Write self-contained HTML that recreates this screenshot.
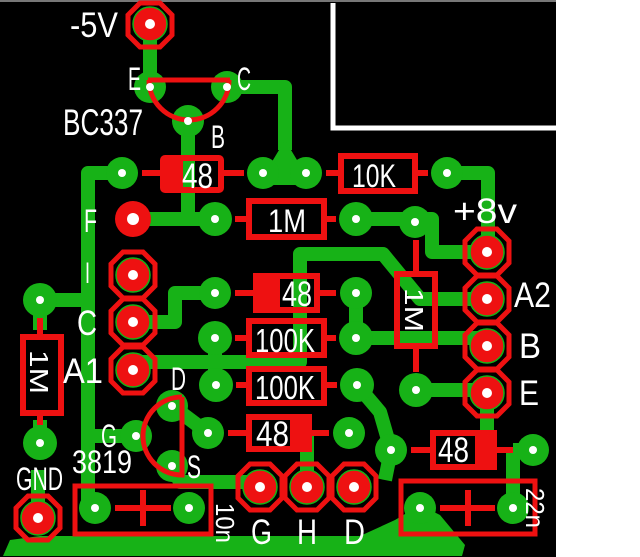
<!DOCTYPE html>
<html><head><style>
html,body{margin:0;padding:0;background:#fff;}
svg{display:block;}
text{font-family:"Liberation Sans",sans-serif;fill:#fff;}
</style></head><body>
<svg width="640" height="557" viewBox="0 0 640 557" xmlns="http://www.w3.org/2000/svg">
<rect x="0" y="0" width="556" height="557" fill="#000"/>
<rect x="0" y="0" width="556" height="2" fill="#777"/>
<path d="M333 3 V128 H556" stroke="#fff" stroke-width="5" fill="none"/>

<g stroke="#17b217" stroke-width="14" fill="none" stroke-linejoin="round">
<path d="M150 24 V87"/>
<path d="M227 87 H285 V150"/>
<path d="M188 121 V219 M133 219 H215"/>
<path d="M122 173 H88 V505 L95 508"/>
<path d="M40 300 H88"/>
<path d="M356 219 H432 V252 H487"/>
<path d="M447 173 H488 V252"/>
<path d="M133 322 H175 V293 H215"/>
<path d="M133 362 H300 V254 H383 L420 299 H487"/>
<path d="M215 338 V385"/>
<path d="M356 293 V338 H487"/>
<path d="M416 390 H487"/>
<path d="M487 393 V450"/>
<path d="M513 450 H533 M513 450 V508"/>
<path d="M357 385 L380 412 L391 450 L385 480"/>
<path d="M172 406 L208 433"/>
<path d="M172 466 L180 482 H260"/>
<path d="M307 487 V433"/>
<path d="M136 436 H88"/>
<path d="M40 300 V330 M40 420 V443 M38 518 V470"/>
</g>
<polygon points="285,140 270,165 263,185 306,185 300,165" fill="#17b217"/>
<polygon points="3,556 10,540 40,536 360,536 395,520 420,505 440,515 465,545 462,556" fill="#17b217"/>

<g fill="#17b217">
<circle cx="150" cy="87" r="16"/><circle cx="227" cy="87" r="16"/><circle cx="188" cy="121" r="16"/>
<circle cx="122" cy="173" r="16"/><circle cx="263" cy="173" r="16"/><circle cx="306" cy="173" r="16"/><circle cx="447" cy="173" r="16"/>
<circle cx="215" cy="219" r="17"/><circle cx="356" cy="219" r="17"/><circle cx="415" cy="222" r="16"/>
<circle cx="215" cy="293" r="16"/><circle cx="356" cy="293" r="16"/>
<circle cx="215" cy="338" r="17"/><circle cx="356" cy="338" r="17"/>
<circle cx="216" cy="385" r="17"/><circle cx="357" cy="385" r="17"/>
<circle cx="416" cy="390" r="17"/>
<circle cx="40" cy="300" r="17"/><circle cx="40" cy="443" r="17"/>
<circle cx="172" cy="406" r="16"/><circle cx="136" cy="436" r="16"/><circle cx="172" cy="466" r="16"/>
<circle cx="208" cy="433" r="16"/><circle cx="349" cy="433" r="16"/>
<circle cx="391" cy="450" r="16"/><circle cx="533" cy="450" r="16"/>
<circle cx="95" cy="508" r="16"/><circle cx="189" cy="508" r="16"/>
<circle cx="420" cy="508" r="16"/><circle cx="513" cy="508" r="16"/>
</g>

<g fill="none" stroke="#ee1111" stroke-width="5">
<polygon points="140,3 160,3 172,15 172,35 160,47 140,47 128,35 128,15"/>
<polygon points="123,252 143,252 155,264 155,286 143,298 123,298 111,286 111,264"/>
<polygon points="123,299 143,299 155,311 155,333 143,345 123,345 111,333 111,311"/>
<polygon points="123,347 143,347 155,359 155,381 143,393 123,393 111,381 111,359"/>
<polygon points="477,229 497,229 509,241 509,263 497,275 477,275 465,263 465,241"/>
<polygon points="477,276 497,276 509,288 509,310 497,322 477,322 465,310 465,288"/>
<polygon points="477,323 497,323 509,335 509,357 497,369 477,369 465,357 465,335"/>
<polygon points="477,370 497,370 509,382 509,404 497,416 477,416 465,404 465,382"/>
<polygon points="28,496 48,496 60,508 60,528 48,540 28,540 16,528 16,508"/>
<polygon points="250,464 270,464 282,476 282,498 270,510 250,510 238,498 238,476"/>
<polygon points="297,464 317,464 329,476 329,498 317,510 297,510 285,498 285,476"/>
<polygon points="344,464 364,464 376,476 376,498 364,510 344,510 332,498 332,476"/>
</g>
<g fill="#ee1111" stroke="#17b217" stroke-width="1.5">
<circle cx="150" cy="24" r="17"/><circle cx="133" cy="275" r="17"/><circle cx="133" cy="322" r="17"/><circle cx="133" cy="370" r="17"/>
<circle cx="487" cy="252" r="17"/><circle cx="487" cy="299" r="17"/><circle cx="487" cy="346" r="17"/><circle cx="487" cy="393" r="17"/>
<circle cx="38" cy="518" r="17"/><circle cx="260" cy="487" r="17"/><circle cx="307" cy="487" r="17"/><circle cx="354" cy="487" r="17"/>
</g>
<circle cx="133" cy="219" r="18" fill="#ee1111"/>

<g stroke="#ee1111" stroke-width="6" fill="none">
<path d="M148 80 H230 M149 80 A40 40 0 0 0 229 80" stroke-width="5"/>
<path d="M182 397 V475 A39 39 0 0 1 182 397" stroke-width="5"/>
<path d="M142 173 H163 M221 173 H244"/>
<path d="M326 173 H341 M415 173 H428"/>
<path d="M235 219 H249 M324 219 H336"/>
<path d="M235 293 H256 M317 293 H336"/>
<path d="M235 338 H249 M324 338 H336"/>
<path d="M236 385 H249 M324 385 H337"/>
<path d="M228 433 H249 M309 433 H329"/>
<path d="M411 450 H433 M494 450 H513"/>
<path d="M416 240 V274 M416 346 V372"/>
<path d="M40 318 V337 M40 413 V425"/>
<path d="M115 508 H171 M143 490 V526 M440 508 H495 M468 490 V526"/>
<rect x="163" y="158" width="58" height="32" rx="2"/>
<rect x="341" y="156" width="74" height="35"/>
<rect x="249" y="201" width="75" height="36"/>
<rect x="256" y="276" width="61" height="34"/>
<rect x="249" y="321" width="75" height="34"/>
<rect x="249" y="369" width="75" height="34"/>
<rect x="249" y="417" width="60" height="32"/>
<rect x="433" y="433" width="61" height="34"/>
<rect x="397" y="274" width="38" height="72"/>
<rect x="23" y="337" width="38" height="76"/>
<rect x="75" y="486" width="136" height="48" stroke-width="5"/>
<rect x="401" y="481" width="134" height="53" stroke-width="5"/>
</g>
<g fill="#ee1111">
<rect x="163" y="158" width="20" height="32"/>
<rect x="256" y="276" width="24" height="34"/>
<rect x="290" y="417" width="19" height="32"/>
<rect x="475" y="433" width="19" height="34"/>
</g>

<g fill="#fff">
<circle cx="150" cy="24" r="5"/><circle cx="150" cy="87" r="4"/><circle cx="227" cy="87" r="4"/><circle cx="188" cy="121" r="4"/>
<circle cx="122" cy="173" r="4"/><circle cx="263" cy="173" r="4"/><circle cx="306" cy="173" r="4"/><circle cx="447" cy="173" r="4"/>
<circle cx="133" cy="219" r="6"/><circle cx="215" cy="219" r="4"/><circle cx="356" cy="219" r="4"/><circle cx="415" cy="222" r="4"/>
<circle cx="133" cy="275" r="5"/><circle cx="133" cy="322" r="5"/><circle cx="133" cy="370" r="5"/>
<circle cx="215" cy="293" r="4"/><circle cx="356" cy="293" r="4"/><circle cx="215" cy="338" r="4"/><circle cx="356" cy="338" r="4"/>
<circle cx="216" cy="385" r="4"/><circle cx="357" cy="385" r="4"/><circle cx="416" cy="390" r="4"/>
<circle cx="487" cy="252" r="5"/><circle cx="487" cy="299" r="5"/><circle cx="487" cy="346" r="5"/><circle cx="487" cy="393" r="5"/>
<circle cx="40" cy="300" r="4"/><circle cx="40" cy="443" r="4"/><circle cx="38" cy="518" r="5"/>
<circle cx="172" cy="406" r="4"/><circle cx="136" cy="436" r="4"/><circle cx="172" cy="466" r="4"/>
<circle cx="208" cy="433" r="4"/><circle cx="349" cy="433" r="4"/><circle cx="391" cy="450" r="4"/><circle cx="533" cy="450" r="4"/>
<circle cx="260" cy="487" r="5"/><circle cx="307" cy="487" r="5"/><circle cx="354" cy="487" r="5"/>
<circle cx="95" cy="508" r="4"/><circle cx="189" cy="508" r="4"/><circle cx="420" cy="508" r="4"/><circle cx="513" cy="508" r="4"/>
</g>

<g font-size="35">
<text x="70" y="37" textLength="48" lengthAdjust="spacingAndGlyphs">-5V</text>
<text x="128" y="90" font-size="32" textLength="13" lengthAdjust="spacingAndGlyphs">E</text>
<text x="237" y="90" font-size="32" textLength="14" lengthAdjust="spacingAndGlyphs">C</text>
<text x="63" y="135" font-size="37" textLength="80" lengthAdjust="spacingAndGlyphs">BC337</text>
<text x="211" y="148" font-size="32" textLength="14" lengthAdjust="spacingAndGlyphs">B</text>
<text x="84" y="232" font-size="32" textLength="13" lengthAdjust="spacingAndGlyphs">F</text>
<text x="85" y="283" font-size="30" textLength="5" lengthAdjust="spacingAndGlyphs">I</text>
<text x="77" y="335" textLength="20" lengthAdjust="spacingAndGlyphs">C</text>
<text x="63" y="383" textLength="40" lengthAdjust="spacingAndGlyphs">A1</text>
<text x="171" y="390" font-size="32" textLength="15" lengthAdjust="spacingAndGlyphs">D</text>
<text x="101" y="447" font-size="32" textLength="16" lengthAdjust="spacingAndGlyphs">G</text>
<text x="72" y="473" font-size="32" textLength="60" lengthAdjust="spacingAndGlyphs">3819</text>
<text x="187" y="478" font-size="32" textLength="14" lengthAdjust="spacingAndGlyphs">S</text>
<text x="16" y="490" font-size="32" textLength="47" lengthAdjust="spacingAndGlyphs">GND</text>
<text x="251" y="544" textLength="21" lengthAdjust="spacingAndGlyphs">G</text>
<text x="297" y="544" textLength="20" lengthAdjust="spacingAndGlyphs">H</text>
<text x="344" y="544" textLength="21" lengthAdjust="spacingAndGlyphs">D</text>
<text x="453" y="223" textLength="64" lengthAdjust="spacingAndGlyphs">+8v</text>
<text x="514" y="307" textLength="37" lengthAdjust="spacingAndGlyphs">A2</text>
<text x="519" y="358" textLength="22" lengthAdjust="spacingAndGlyphs">B</text>
<text x="519" y="405" textLength="20" lengthAdjust="spacingAndGlyphs">E</text>
<text x="182" y="188" textLength="31" lengthAdjust="spacingAndGlyphs">48</text>
<text x="352" y="187" font-size="32" textLength="44" lengthAdjust="spacingAndGlyphs">10K</text>
<text x="268" y="232" font-size="32" textLength="38" lengthAdjust="spacingAndGlyphs">1M</text>
<text x="282" y="306" textLength="30" lengthAdjust="spacingAndGlyphs">48</text>
<text x="255" y="352" font-size="33" textLength="60" lengthAdjust="spacingAndGlyphs">100K</text>
<text x="255" y="399" font-size="33" textLength="60" lengthAdjust="spacingAndGlyphs">100K</text>
<text x="256" y="446" textLength="33" lengthAdjust="spacingAndGlyphs">48</text>
<text x="438" y="462" textLength="31" lengthAdjust="spacingAndGlyphs">48</text>
<text font-size="26" transform="translate(30,350) rotate(90)" textLength="44" lengthAdjust="spacingAndGlyphs">1M</text>
<text font-size="26" transform="translate(405,288) rotate(90)" textLength="44" lengthAdjust="spacingAndGlyphs">1M</text>
<text font-size="26" transform="translate(216,503) rotate(90)" textLength="40" lengthAdjust="spacingAndGlyphs">10n</text>
<text font-size="26" transform="translate(526,488) rotate(90)" textLength="40" lengthAdjust="spacingAndGlyphs">22n</text>
</g>
</svg>
</body></html>
